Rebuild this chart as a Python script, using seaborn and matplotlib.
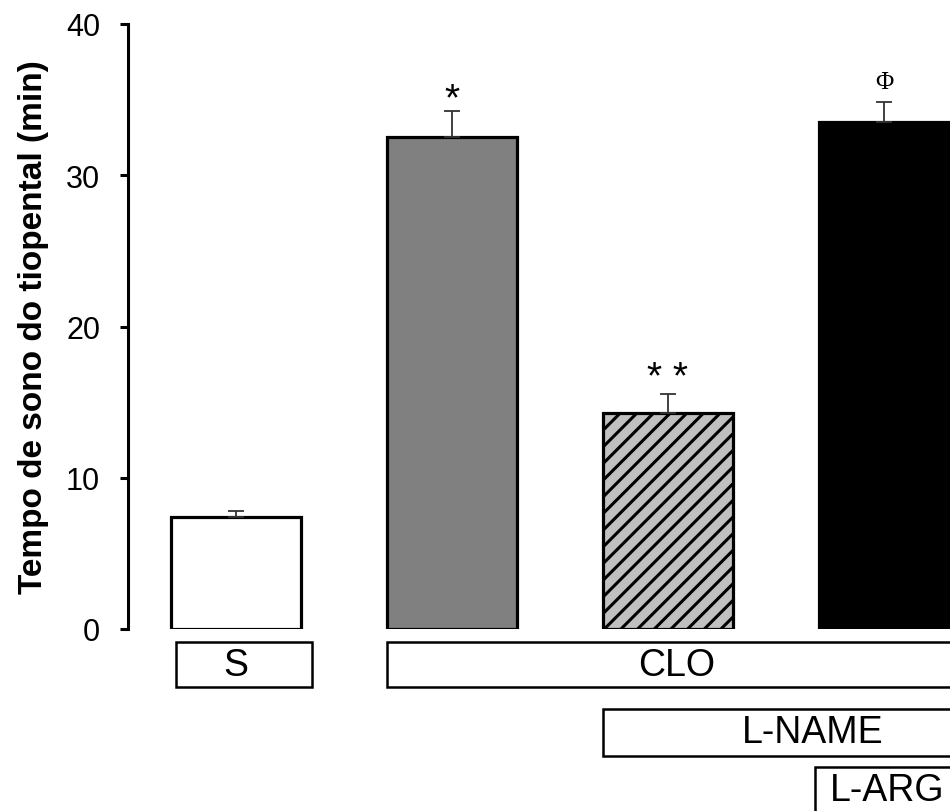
import numpy as np
import pandas as pd
import seaborn as sns
import matplotlib.pyplot as plt
import matplotlib.transforms as mtransforms
from matplotlib.patches import Rectangle

# data
groups = ['S', 'CLO', 'CLO + L-NAME', 'CLO + L-NAME + L-ARG']
means = [7.4, 32.5, 14.3, 33.5]
sem = [0.4, 1.75, 1.25, 1.35]
marks = ['', '*', '* *', '\u03a6']
bar_colors = ['white', '#808080', '#c0c0c0', 'black']
hatches = ['', '', '//', '']
yticks = [0, 10, 20, 30, 40]

# treatment boxes under the bars
treat_labels = ['S', 'CLO', 'L-NAME', 'L-ARG']
treat_span = [(-0.28, 0.35), (0.70, 3.40), (1.70, 3.64), (2.68, 3.36)]
treat_rows = [(-0.0959, -0.0215), (-0.0959, -0.0215), (-0.210, -0.132), (-0.31, -0.228)]
treat_text = [(0.0, -0.0587), (2.04, -0.0587), (2.67, -0.171), (3.016, -0.266)]

sns.set_style('white')
plt.rcParams['font.family'] = ['Liberation Sans', 'DejaVu Sans']
plt.rcParams['hatch.linewidth'] = 2.2
for k in ['text.color', 'axes.labelcolor', 'xtick.color', 'ytick.color', 'axes.edgecolor']:
    plt.rcParams[k] = 'black'

fig = plt.figure(figsize=(9.5, 8.12), dpi=100)
ax = fig.add_axes([128/950, 182/812, 1 - 128/950, 605/812])

df = pd.DataFrame({'group': groups, 'mean': means})
sns.barplot(data=df, x='group', y='mean', hue='group', palette=bar_colors,
            width=0.6, saturation=1, edgecolor='black', linewidth=2.3,
            legend=False, ax=ax)
for p, h in zip(ax.patches, hatches):
    p.set_hatch(h)

x = np.arange(len(groups))
ax.errorbar(x, means, yerr=[np.zeros(len(sem)), sem], fmt='none',
            ecolor='#333333', elinewidth=1.3, capsize=6, capthick=1.3, zorder=5)

# significance marks
offs = [0, 0.13, 0.38, 0.95]
for i, m in enumerate(marks):
    if not m:
        continue
    if m == '\u03a6':
        ax.text(i, means[i] + sem[i] + offs[i], m, ha='center', va='baseline',
                fontsize=18, family='Liberation Serif')
    else:
        ax.text(i, means[i] + sem[i] + offs[i], m, ha='center', va='baseline',
                fontsize=28)

ax.set_ylim(0, 40)
ax.set_xlim(-0.5, 3.306)
ax.set_yticks(yticks)
ax.tick_params(axis='y', direction='out', length=6, width=2.2, pad=14, labelsize=22, left=True)
ax.tick_params(axis='x', bottom=False, labelbottom=False)
for s in ['top', 'right', 'bottom']:
    ax.spines[s].set_visible(False)
ax.spines['left'].set_linewidth(2.2)
ax.set_xlabel('')
ax.set_ylabel('Tempo de sono do tiopental (min)', fontsize=24, fontweight='bold', labelpad=12)

trans = mtransforms.blended_transform_factory(ax.transData, ax.transAxes)
for lab, (x0, x1), (y0, y1), (tx, ty) in zip(treat_labels, treat_span, treat_rows, treat_text):
    ax.add_patch(Rectangle((x0, y0), x1 - x0, y1 - y0, transform=trans, clip_on=False,
                           facecolor='white', edgecolor='black', linewidth=1.8))
    ax.text(tx, ty, lab, transform=trans, ha='center', va='center', fontsize=27, clip_on=False)

fig.savefig('out.png', dpi=100)
